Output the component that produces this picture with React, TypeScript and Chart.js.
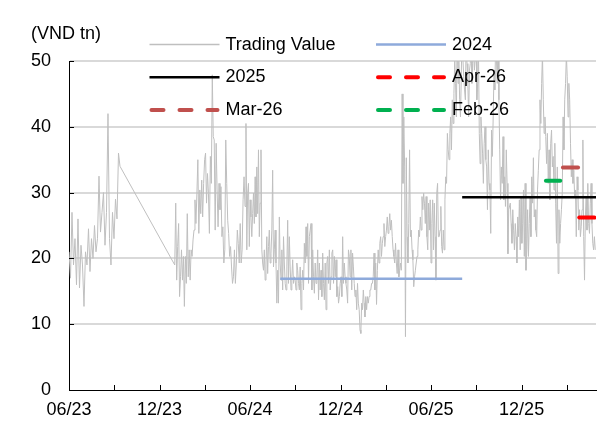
import React, { useEffect, useRef } from "react";
import { Chart, registerables } from "chart.js";

Chart.register(...registerables);

const FONT = "'Liberation Sans', Arial, Helvetica, sans-serif";

// x axis: months counted from the first trading day shown (mid-June 2023)
const xAxisMax = 34.93;
const tickMonths = [0, 6, 12, 18, 24, 30];
const tickLabels = ["06/23", "12/23", "06/24", "12/24", "06/25", "12/25"];
const yTicks = [0, 10, 20, 30, 40, 50];

// Daily trading value (VND tn), in consecutive periods
const tvJunSep2023 = [
  21, 17, 27, 19, 23, 16, 26, 15.5, 22, 19, 12.7, 21, 19, 24.5, 18, 23, 20, 25, 21, 23,
  32.5, 24, 27, 30, 22, 27, 42, 23, 19, 27, 23, 29, 26, 36, 34,
];
const tvJanMay2024 = [
  19, 28.4, 16.7, 21.8, 25.3, 14.2, 17.2, 21.3, 16.7, 20.3, 12.7, 20.3, 16.2, 26.8, 17.2, 21.3, 16.7, 21.3, 20.3, 22.8,
  24.3, 28.9, 25.3, 29.9, 35, 23.8, 30.4, 26.8, 31.9, 26.3, 31.4, 35, 36, 28.4, 32.9, 29.9, 23.8, 35.5, 31.4, 47.9,
  38.5, 38, 24.3, 37.5, 30.4, 24.8, 31.4, 27.4, 30.9, 23.3, 24.8, 19.3, 21.3, 38, 31.4, 25.8, 23.8, 20.3, 21.8, 18.7,
  16.2, 17.2, 21.3, 16.2, 19.3, 24.3, 22.3, 19.3, 25.3, 19.3, 21.3, 28.9, 32.4, 27.9,
];
const tvMayNov2024 = [
  40.5, 21.3, 29.9, 31.4, 21.8, 28.9, 26.3, 23.3, 26.8, 29.9, 25.3, 32.4, 26.3, 33.9, 26.8, 36.5, 23.3, 28.4, 36.5, 21.3,
  19.3, 18.2, 21.3, 16.7, 19.3, 23.3, 17.7, 21.8, 24.3, 19.3, 20.8, 24.3, 33.4, 18.7, 21.3, 24.3, 19.3, 13.2, 18.2, 13.2,
  26.3, 19.3, 16.7, 21.3, 15.2, 23.3, 19.3, 16.2, 15.2, 18.7, 25.8, 16.2, 23.3, 18.7, 15.2, 17.2, 19.8, 16.2, 17.2, 16.7,
  15.2, 19.3, 18.2, 16.2, 15.2, 18.7, 12.2, 16.2, 18.2, 15.2, 22.3, 19.3, 24.8, 20.3, 25.3, 16.2, 23.3, 24.3, 25.3, 15.2,
  21.3, 17.2, 14.7, 19.3, 16.2, 17.2, 21.3, 13.7, 19.3, 15.2, 18.2, 14.2, 20.8, 16.2, 13.7, 19.3, 12.2, 19.3, 20.3, 16.2,
  21.3, 15.2, 17.2, 20.8, 21.3, 16.2, 20.3, 17.2,
];
const tvNov2024May2025 = [
  19.8, 14.2, 15.7, 13.2, 14.2, 16.2, 17.2, 14.2, 23.3, 16.2, 19.3, 17.2, 16.2, 15.2, 13.2, 21.3, 20.3, 17.2, 21.3, 15.2,
  20.8, 18.7, 16.2, 14.2, 15.2, 12.2, 16.2, 13.2, 12.2, 9.1, 8.6, 13.2, 12.2, 15.2, 13.2, 11.1, 14.2, 12.2, 14.2, 13.2,
  14.2, 15.2, 15.2, 16.2, 16.2, 17.2, 20.8, 15.2, 19.3, 13, 18.2, 21.3, 19.3, 22.3, 23.3, 20.3, 22.3, 23.3, 25.3, 21.8,
  23.3, 24.3, 26.3, 23.8, 24.8, 26.8, 24.3, 25.8, 23.3, 21.3, 20.3, 19.3, 22.3, 19.3, 17.7, 21.3, 17.2, 18.2, 19.3, 18.2,
  45, 31.4, 41.5, 33.9, 8.1, 35.3, 23.3, 19.3, 25.3, 36.5, 23.3, 24.3, 21.3, 19.8, 15.7, 17.2, 18.2, 19.3, 20.3, 21.3,
  24.3, 23.3, 26.3, 24.3, 29.4, 27.4, 29.9, 28.4, 25.3,
];
const tvMayNov2025 = [
  29.4, 23.3, 21.3, 28.4, 24.3, 28.9, 19.3, 25.3, 28.9, 21.3, 28.4, 23.3, 16.7, 29.9, 31.4, 23.3, 23.3, 24.3, 27.9, 21.8,
  20.8, 24.3, 21.3, 28.9, 32.4, 31.4, 39, 36.5, 35, 39, 41.5, 36.5, 44.1, 40.5, 45.1, 50.2, 46.6, 41.5, 55, 46.6,
  50.2, 44.1, 41.5, 47.6, 56, 50.2, 47.6, 45.6, 44.1, 54, 49.6, 46.6, 41.5, 48.6, 49.6, 57, 46.6, 49.6, 53, 48.6,
  50.2, 55, 44.1, 46.6, 52, 39, 34.4, 41.5, 39, 36, 31.4, 37.5, 40, 35, 33.9, 27.4, 36.5, 31.4, 30.4, 23.8,
  39.5, 35.5, 41.5, 48.6, 45.6, 53, 50.2, 46.6, 55, 44.1, 36.5, 28.9, 33.9, 31.4, 38.5, 28.9, 32.4, 27.9, 36.5, 31.4,
  20.7, 27.4,
];
const tvNov2025Apr2026 = [
  28.4, 25.3, 22.3, 27.4, 24.3, 21.3, 25.3, 23.3, 19.3, 26.3, 23.3, 28.9, 21.3, 29.4, 22.3, 25.3, 30.4, 20.3, 31.4, 18.2,
  21.3, 27.4, 20.3, 25.3, 29.4, 23.3, 32.4, 28.4, 35.3, 26.3, 27.4, 24.3, 23.3, 30.4, 33.4, 36.5, 44.1, 40.5, 46.6, 51,
  44.1, 39, 41.5, 38.5, 34.4, 39, 31.4, 36.5, 28.9, 37.5, 39.5, 33.9, 35.5, 30.4, 37.5, 28.4, 22.3, 33.9, 17.7, 27.4,
  22.3, 25.3, 27.4, 29.9, 41.5, 36.5, 44.1, 46.6, 51, 47.6, 41.5, 46.6, 44.1, 37.5, 32.4, 35, 31.4, 33.4, 29.4, 30.4,
  23.3, 32.4, 30.4, 24.3, 27.4, 23.3, 24.8, 27.4, 38, 23.3, 16.7, 26.3, 29.4, 24.3, 31.4, 25.3, 23.8, 28.4, 31.4, 25.3,
  22.3, 21.3, 23.3, 21.3,
];

// period boundaries (months since mid-June 2023)
const periodValues = [tvJunSep2023, tvJanMay2024, tvMayNov2024, tvNov2024May2025, tvMayNov2025, tvNov2025Apr2026];
const periodStart = [0, 7.01, 11.73, 17.7, 23.67, 29.25];
const periodEnd = [3.38, 11.73, 17.7, 23.67, 29.2, 34.88];
const periodClosed = [true, false, false, false, false, true];

// average lines
const avgNames = ["2024", "2025", "Apr-26", "Mar-26", "Feb-26"];
const avgValues = [16.9, 29.3, 26.2, 33.8, 31.8];
const avgFrom = [14.0, 26.06, 33.82, 32.74, 31.61];
const avgTo = [26.06, 34.93, 34.82, 33.74, 32.56];
const avgColors = ["#8eaadb", "#000000", "#ff0000", "#c0504d", "#00b050"];

function buildTradingPoints() {
  const pts: { x: number; y: number }[] = [];
  periodValues.forEach((vals, p) => {
    const n = vals.length;
    const span = periodEnd[p] - periodStart[p];
    const step = span / (periodClosed[p] ? n - 1 : n);
    vals.forEach((v, i) => pts.push({ x: periodStart[p] + i * step, y: v }));
  });
  return pts;
}

const legendPlugin = {
  id: "customDecor",
  afterDraw(chart: any) {
    const ctx = chart.ctx;
    const area = chart.chartArea;
    const xs = chart.scales.x;
    const ys = chart.scales.y;
    ctx.save();
    // inner tick marks
    ctx.strokeStyle = "#000";
    ctx.lineWidth = 1;
    ctx.beginPath();
    xs.ticks.forEach((t: any) => {
      const px = Math.round(xs.getPixelForValue(t.value)) + 0.5;
      ctx.moveTo(px, area.bottom);
      ctx.lineTo(px, area.bottom - 5);
    });
    ys.ticks.forEach((t: any) => {
      const py = Math.round(ys.getPixelForValue(t.value)) + 0.5;
      ctx.moveTo(area.left, py);
      ctx.lineTo(area.left + 5, py);
    });
    ctx.stroke();

    // unit label
    ctx.fillStyle = "#000";
    ctx.font = `18px ${FONT}`;
    ctx.textBaseline = "middle";
    ctx.textAlign = "left";
    ctx.fillText("(VND tn)", 31, 34);

    // legend
    const items = [
      { label: "Trading Value", color: "#bfbfbf", width: 1.5, dash: false, col: 0, row: 0 },
      { label: "2024", color: avgColors[0], width: 2.5, dash: false, col: 1, row: 0 },
      { label: "2025", color: avgColors[1], width: 2.5, dash: false, col: 0, row: 1 },
      { label: "Apr-26", color: avgColors[2], width: 4, dash: true, col: 1, row: 1 },
      { label: "Mar-26", color: avgColors[3], width: 4, dash: true, col: 0, row: 2 },
      { label: "Feb-26", color: avgColors[4], width: 4, dash: true, col: 1, row: 2 },
    ];
    const colX = [149.5, 376];
    const rowY = [44.6, 77.3, 110];
    items.forEach((it) => {
      const x0 = colX[it.col];
      const y = rowY[it.row];
      ctx.beginPath();
      ctx.strokeStyle = it.color;
      ctx.lineWidth = it.width;
      if (it.dash) {
        ctx.lineCap = "round";
        ctx.setLineDash([12, 16]);
        ctx.moveTo(x0 + 2, y);
        ctx.lineTo(x0 + 68, y);
      } else {
        ctx.lineCap = "butt";
        ctx.setLineDash([]);
        ctx.moveTo(x0, y);
        ctx.lineTo(x0 + 70, y);
      }
      ctx.stroke();
      ctx.setLineDash([]);
      ctx.fillStyle = "#000";
      ctx.fillText(it.label, x0 + 76, y);
    });
    ctx.restore();
  },
};

export default function App() {
  const ref = useRef<HTMLCanvasElement | null>(null);
  useEffect(() => {
    if (!ref.current) return;
    const trading = buildTradingPoints();
    const avgSets = avgNames.map((name, i) => ({
      label: name,
      data: [
        { x: avgFrom[i], y: avgValues[i] },
        { x: avgTo[i], y: avgValues[i] },
      ],
      borderColor: avgColors[i],
      borderWidth: i < 2 ? 2.5 : 4,
      borderCapStyle: i < 2 ? "butt" : "round",
      pointRadius: 0,
      order: 1,
    }));
    const chart = new Chart(ref.current, {
      type: "line",
      data: {
        datasets: [
          {
            label: "Trading Value",
            data: trading,
            borderColor: "#bfbfbf",
            borderWidth: 1,
            pointRadius: 0,
            tension: 0,
            order: 10,
          },
          ...(avgSets as any),
        ],
      },
      options: {
        responsive: false,
        animation: false,
        devicePixelRatio: 1,
        parsing: false as any,
        layout: { padding: { top: 61, right: 20, left: 0, bottom: 0 } },
        plugins: { legend: { display: false }, tooltip: { enabled: false } },
        scales: {
          x: {
            type: "linear",
            min: 0,
            max: xAxisMax,
            grid: { display: false, drawTicks: false },
            border: { display: true, color: "#000", width: 1 },
            ticks: {
              stepSize: 3,
              autoSkip: false,
              maxRotation: 0,
              minRotation: 0,
              includeBounds: false,
              padding: 9,
              color: "#000",
              font: { family: FONT, size: 18 },
              callback: (v: any) => {
                const i = tickMonths.indexOf(Math.round(Number(v)));
                return i >= 0 ? tickLabels[i] : "";
              },
            },
            afterFit: (s: any) => {
              s.height = 49;
            },
          },
          y: {
            type: "linear",
            min: yTicks[0],
            max: yTicks[yTicks.length - 1],
            grid: {
              display: true,
              drawTicks: false,
              lineWidth: 2,
              color: (c: any) => (c.tick && c.tick.value === 0 ? "rgba(0,0,0,0)" : "#d9d9d9"),
            },
            border: { display: true, color: "#000", width: 1 },
            ticks: {
              stepSize: 10,
              padding: 18,
              color: "#000",
              font: { family: FONT, size: 18 },
            },
            afterFit: (s: any) => {
              s.width = 69;
            },
          },
        },
      },
      plugins: [legendPlugin],
    } as any);
    return () => chart.destroy();
  }, []);
  return (
    <div style={{ position: "absolute", left: 0, top: 0, width: 616, height: 439 }}>
      <canvas ref={ref} width={616} height={439} />
    </div>
  );
}
